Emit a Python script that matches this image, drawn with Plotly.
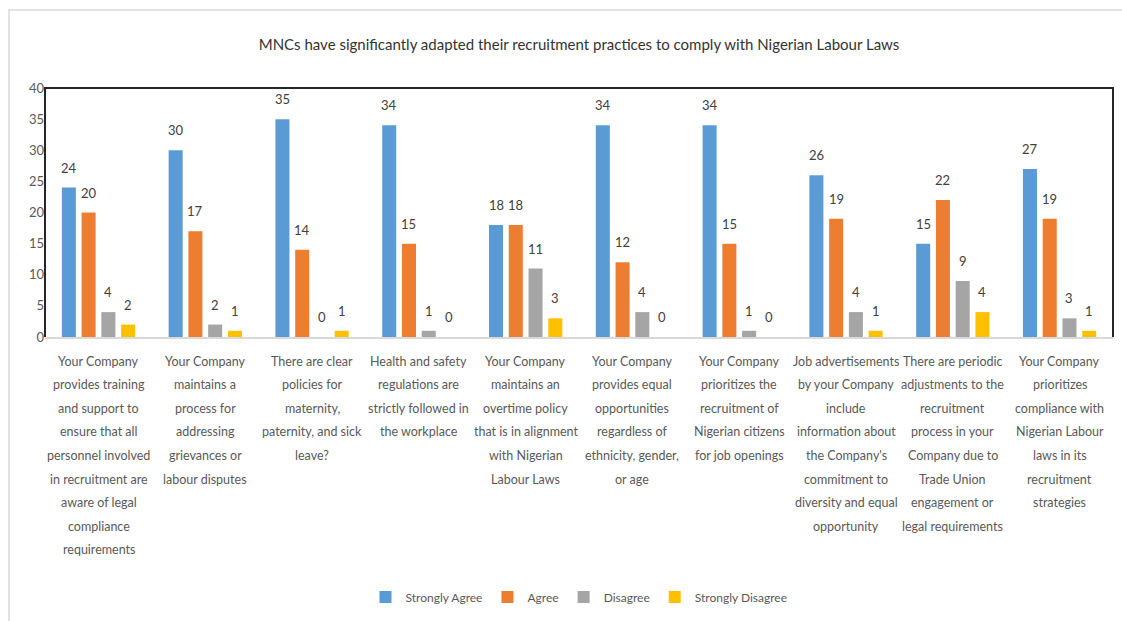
import plotly.graph_objects as go

categories = [
    "Your Company<br>provides training<br>and support to<br>ensure that all<br>personnel involved<br>in recruitment are<br>aware of legal<br>compliance<br>requirements",
    "Your Company<br>maintains a<br>process for<br>addressing<br>grievances or<br>labour disputes",
    "There are clear<br>policies for<br>maternity,<br>paternity, and sick<br>leave?",
    "Health and safety<br>regulations are<br>strictly followed in<br>the workplace",
    "Your Company<br>maintains an<br>overtime policy<br>that is in alignment<br>with Nigerian<br>Labour Laws",
    "Your Company<br>provides equal<br>opportunities<br>regardless of<br>ethnicity, gender,<br>or age",
    "Your Company<br>prioritizes the<br>recruitment of<br>Nigerian citizens<br>for job openings",
    "Job advertisements<br>by your Company<br>include<br>information about<br>the Company's<br>commitment to<br>diversity and equal<br>opportunity",
    "There are periodic<br>adjustments to the<br>recruitment<br>process in your<br>Company due to<br>Trade Union<br>engagement or<br>legal requirements",
    "Your Company<br>prioritizes<br>compliance with<br>Nigerian Labour<br>laws in its<br>recruitment<br>strategies",
]
strongly_agree = [24, 30, 35, 34, 18, 34, 34, 26, 15, 27]
agree = [20, 17, 14, 15, 18, 12, 15, 19, 22, 19]
disagree = [4, 2, 0, 1, 11, 4, 1, 4, 9, 3]
strongly_disagree = [2, 1, 1, 0, 3, 0, 0, 1, 4, 1]
series_names = ["Strongly Agree", "Agree", "Disagree", "Strongly Disagree"]
title_text = "MNCs have significantly adapted their recruitment practices to comply with Nigerian Labour Laws"

colors = ["#5B9BD5", "#ED7D31", "#A5A5A5", "#FFC000"]
FONT = "Lato, Liberation Sans, sans-serif"

W, H = 1122, 621
ML, MR, MT, MB = 45, 9, 88, 284
PW = W - ML - MR
PH = H - MT - MB
BARGAP = 0.26
BARGROUPGAP = 0.29

def py(px):
    return 1 - (px - MT) / PH

def pxx(px):
    return (px - ML) / PW

cat_keys = [f"c{i}" for i in range(len(categories))]
all_series = [strongly_agree, agree, disagree, strongly_disagree]

fig = go.Figure()
for name, vals, col in zip(series_names, all_series, colors):
    fig.add_trace(go.Bar(
        x=cat_keys, y=vals, name=name, marker_color=col, marker_line_width=0,
        hoverinfo="x+y+name",
    ))

annotations = []
# value labels above bars
slot_px = PW / len(categories) * (1 - BARGAP) / len(all_series)
for si, vals in enumerate(all_series):
    off = (si - (len(all_series) - 1) / 2) * slot_px
    for key, v in zip(cat_keys, vals):
        annotations.append(dict(
            x=key, xref="x", y=v, yref="y", text=str(v), showarrow=False,
            xshift=off, yshift=20, yanchor="middle", xanchor="center",
            font=dict(family=FONT, size=13, color="#404040"),
        ))

# category labels
for key, label in zip(cat_keys, categories):
    for j, line in enumerate(label.split("<br>")):
        annotations.append(dict(
            x=key, xref="x", y=py(361 + 23.6 * j), yref="paper",
            text=line, showarrow=False, yanchor="middle", xanchor="center",
            font=dict(family=FONT, size=12.5, color="#595959"),
        ))

shapes = [
    dict(type="rect", xref="paper", yref="paper", x0=pxx(9), x1=pxx(1130), y0=py(630), y1=py(10),
         line=dict(color="#d9d9d9", width=1.5), layer="below"),
    dict(type="path", xref="paper", yref="paper", path="M 0 0 L 0 1 L 1 1 L 1 0",
         line=dict(color="#262626", width=2), layer="above"),
]

fig.update_layout(
    width=W, height=H,
    margin=dict(l=ML, r=MR, t=MT, b=MB),
    paper_bgcolor="white", plot_bgcolor="white",
    barmode="group", bargap=BARGAP, bargroupgap=BARGROUPGAP,
    title=dict(text=title_text, x=0.5, xref="paper", xanchor="center", y=1 - 45 / H, yanchor="middle",
               font=dict(family=FONT, size=15, color="#333333")),
    font=dict(family=FONT, color="#595959"),
    xaxis=dict(showticklabels=False, showline=True, linecolor="#d9d9d9", linewidth=1.5,
               showgrid=False, zeroline=False, ticks=""),
    yaxis=dict(range=[0, 40], tickvals=list(range(0, 41, 5)), showgrid=False, zeroline=False,
               showline=False, ticks="", tickfont=dict(family=FONT, size=13, color="#595959")),
    legend=dict(orientation="h", x=0.5, xanchor="center", y=py(597), yanchor="middle",
                font=dict(family=FONT, size=12, color="#595959"), itemwidth=30,
                traceorder="normal"),
    annotations=annotations,
    shapes=shapes,
)

fig.write_html("out.html", post_script="document.body.style.margin='0';",
               config={"displayModeBar": False})
